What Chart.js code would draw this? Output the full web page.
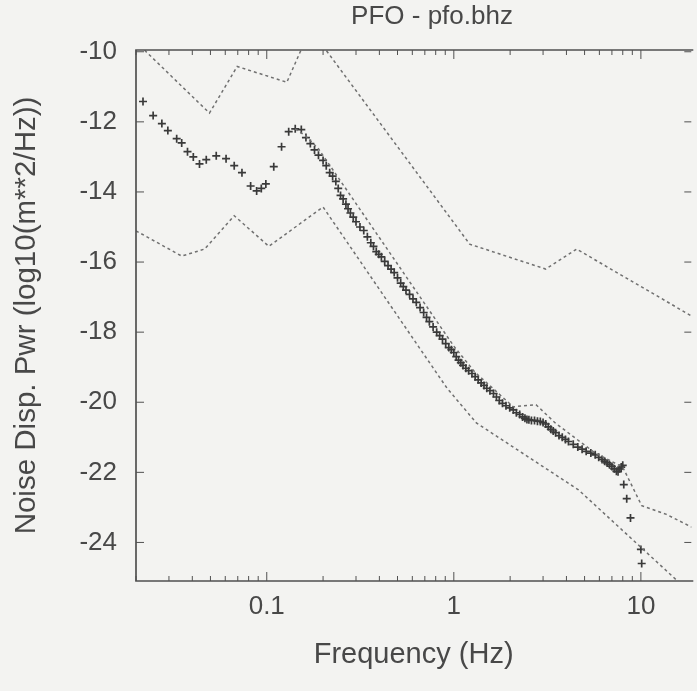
<!DOCTYPE html>
<html>
<head>
<meta charset="utf-8">
<script src="https://cdn.jsdelivr.net/npm/chart.js@4.4.1/dist/chart.umd.min.js"></script>
<style>
  html, body { margin: 0; padding: 0; background: #f3f3f1; overflow: hidden; }
  #wrap { width: 697px; height: 691px; }
</style>
</head>
<body>
<div id="wrap"><canvas id="psd" width="697" height="691"></canvas></div>
<script>
// measured spectrum (crosses), Hz / log10 power
const dataFreq = [0.0218, 0.0247, 0.0275, 0.0296, 0.033, 0.0351, 0.0377, 0.0405, 0.0437, 0.0475,
  0.0537, 0.0606, 0.067, 0.0737, 0.082, 0.0883, 0.0935, 0.0989, 0.109, 0.12,
  0.131, 0.142, 0.153, 0.162, 0.171, 0.18, 0.189, 0.2, 0.208, 0.217,
  0.225, 0.234, 0.241, 0.248, 0.256, 0.265, 0.272, 0.28, 0.29, 0.3,
  0.315, 0.33, 0.345, 0.36, 0.372, 0.385, 0.397, 0.41, 0.427, 0.445,
  0.462, 0.48, 0.5, 0.52, 0.537, 0.555, 0.58, 0.605, 0.63, 0.66,
  0.69, 0.715, 0.74, 0.775, 0.81, 0.84, 0.87, 0.905, 0.94, 0.97,
  1.0, 1.03, 1.06, 1.09, 1.12, 1.16, 1.2, 1.25, 1.3, 1.35,
  1.4, 1.45, 1.5, 1.56, 1.63, 1.69, 1.75, 1.82, 1.9, 1.99,
  2.08, 2.16, 2.25, 2.33, 2.4, 2.46, 2.52, 2.6, 2.7, 2.8,
  2.9, 3.0, 3.1, 3.2, 3.3, 3.4, 3.5, 3.65, 3.8, 3.95,
  4.1, 4.35, 4.6, 4.85, 5.1, 5.4, 5.7, 5.95, 6.2, 6.4,
  6.6, 6.8, 7.0, 7.2, 7.4, 7.55, 7.7, 7.85, 8.0, 8.1,
  8.4, 8.8, 10.0, 10.1];
const dataPwr = [-11.42, -11.82, -12.05, -12.25, -12.48, -12.6, -12.85, -13.0, -13.2, -13.08,
  -12.97, -13.05, -13.25, -13.45, -13.83, -13.97, -13.9, -13.77, -13.28, -12.71,
  -12.28, -12.2, -12.22, -12.45, -12.62, -12.8, -12.95, -13.1, -13.25, -13.45,
  -13.55, -13.7, -13.9, -14.1, -14.2, -14.35, -14.48, -14.6, -14.72, -14.85,
  -15.0, -15.1, -15.28, -15.45, -15.55, -15.7, -15.78, -15.85, -15.98, -16.1,
  -16.2, -16.3, -16.45, -16.6, -16.7, -16.8, -16.92, -17.05, -17.15, -17.3,
  -17.44, -17.58, -17.7, -17.85, -18.0, -18.1, -18.2, -18.33, -18.44, -18.5,
  -18.58, -18.7, -18.8, -18.87, -18.95, -19.03, -19.1, -19.18, -19.27, -19.36,
  -19.45, -19.52, -19.6, -19.67, -19.75, -19.85, -19.95, -20.03, -20.1, -20.16,
  -20.22, -20.3, -20.35, -20.42, -20.46, -20.49, -20.5, -20.52, -20.52, -20.54,
  -20.55, -20.58, -20.62, -20.7, -20.77, -20.82, -20.87, -20.95, -21.0, -21.06,
  -21.12, -21.2, -21.28, -21.34, -21.4, -21.45, -21.5, -21.57, -21.63, -21.68,
  -21.73, -21.78, -21.83, -21.9, -21.97, -21.98, -21.9, -21.85, -21.8, -22.35,
  -22.75, -23.3, -24.2, -24.6];

// dotted reference curves
const highFreq = [0.02, 0.0494, 0.0695, 0.128, 0.171, 1.216, 3.1, 4.53, 18.8];
const highPwr = [-9.72, -11.75, -10.42, -10.87, -9.35, -15.49, -16.2, -15.63, -17.55];
const midFreq = [0.142, 0.161, 0.189, 1.0, 1.3, 2.08, 2.75, 3.5, 5.7, 8.0, 10.1, 13.7, 18.8];
const midPwr = [-12.2, -12.4, -12.77, -18.4, -19.15, -20.13, -20.07, -20.6, -21.45, -21.85, -22.95, -23.2, -23.57];
const lowFreq = [0.02, 0.0351, 0.0465, 0.067, 0.1026, 0.2, 0.92, 1.32, 4.64, 15.7, 20];
const lowPwr = [-15.11, -15.83, -15.63, -14.68, -15.55, -14.43, -19.6, -20.59, -22.5, -25.1, -25.5];

const xTickVals = [0.1, 1, 10];
const xTickLabels = ["0.1", "1", "10"];
const yTickVals = [-10, -12, -14, -16, -18, -20, -22, -24];
const plotTitle = "PFO - pfo.bhz";

const pts = (xs, ys) => xs.map((x, i) => ({ x: x, y: ys[i] }));

const ink = "#484848";
const fontFam = "'Liberation Sans', Arial, sans-serif";

const dottedLine = (xs, ys) => ({
  data: pts(xs, ys),
  borderColor: "#707070",
  borderWidth: 1.5,
  borderDash: [3, 3],
  pointRadius: 0,
  tension: 0,
  fill: false
});

// box, inward ticks and the title (the original title sits right of centre)
const framePlugin = {
  id: "frame",
  afterDatasetsDraw(chart) {
    const { ctx, chartArea: a, scales } = chart;
    const x = scales.x, y = scales.y;
    const seg = (x1, y1, x2, y2) => { ctx.beginPath(); ctx.moveTo(x1, y1); ctx.lineTo(x2, y2); ctx.stroke(); };
    ctx.save();
    ctx.strokeStyle = "#505050";
    ctx.lineWidth = 1.7;
    ctx.beginPath();
    ctx.moveTo(a.right + 2, a.top);
    ctx.lineTo(a.left, a.top);
    ctx.lineTo(a.left, a.bottom);
    ctx.lineTo(a.right + 2, a.bottom);
    ctx.stroke();
    ctx.lineWidth = 1;
    yTickVals.forEach(v => {
      const py = y.getPixelForValue(v);
      seg(a.left, py, a.left + 8, py);
      seg(a.right - 7, py, a.right, py);
    });
    [0.01, 0.1, 1, 10].forEach(d => {
      for (let m = 1; m <= 9; m++) {
        const v = m * d;
        if (v < x.min || v > x.max) continue;
        const px = x.getPixelForValue(v);
        const len = m === 1 ? 9 : 5;
        seg(px, a.bottom, px, a.bottom - len);
        seg(px, a.top, px, a.top + len);
      }
    });
    ctx.fillStyle = ink;
    ctx.font = "26px " + fontFam;
    ctx.textAlign = "center";
    ctx.textBaseline = "middle";
    ctx.fillText(plotTitle, 432, 17);
    ctx.restore();
  }
};

new Chart(document.getElementById("psd").getContext("2d"), {
  type: "line",
  data: {
    datasets: [
      dottedLine(highFreq, highPwr),
      dottedLine(midFreq, midPwr),
      dottedLine(lowFreq, lowPwr),
      {
        data: pts(dataFreq, dataPwr),
        showLine: false,
        pointStyle: "cross",
        pointRadius: 4,
        pointBorderWidth: 1.7,
        pointBorderColor: "#3a3a3a",
        pointBackgroundColor: "#3a3a3a"
      }
    ]
  },
  options: {
    responsive: false,
    animation: false,
    events: [],
    layout: { padding: { top: 50, right: 0, left: 0, bottom: 0 } },
    plugins: { legend: { display: false }, tooltip: { enabled: false } },
    scales: {
      x: {
        type: "logarithmic",
        position: "bottom",
        min: 0.02,
        max: 18.6,
        afterBuildTicks: s => { s.ticks = xTickVals.map(v => ({ value: v })); },
        afterFit: s => { s.height = 110; },
        grid: { display: false, drawTicks: false },
        border: { display: false },
        ticks: {
          autoSkip: false,
          maxRotation: 0,
          padding: 10,
          color: ink,
          font: { family: fontFam, size: 26 },
          callback: (v, i) => xTickLabels[i]
        },
        title: {
          display: true,
          text: "Frequency (Hz)",
          color: ink,
          font: { family: fontFam, size: 29 },
          padding: { top: 0, bottom: 19 }
        }
      },
      y: {
        type: "linear",
        min: -25.1,
        max: -9.95,
        afterBuildTicks: s => { s.ticks = yTickVals.map(v => ({ value: v })); },
        afterFit: s => { s.width = 136; },
        grid: { display: false, drawTicks: false },
        border: { display: false },
        ticks: {
          padding: 19,
          color: ink,
          font: { family: fontFam, size: 26 },
          callback: v => String(v)
        },
        title: {
          display: true,
          text: "Noise Disp. Pwr (log10(m**2/Hz))",
          color: ink,
          font: { family: fontFam, size: 29.5 },
          padding: { top: 9, bottom: 0 }
        }
      }
    }
  },
  plugins: [framePlugin]
});
</script>
</body>
</html>
